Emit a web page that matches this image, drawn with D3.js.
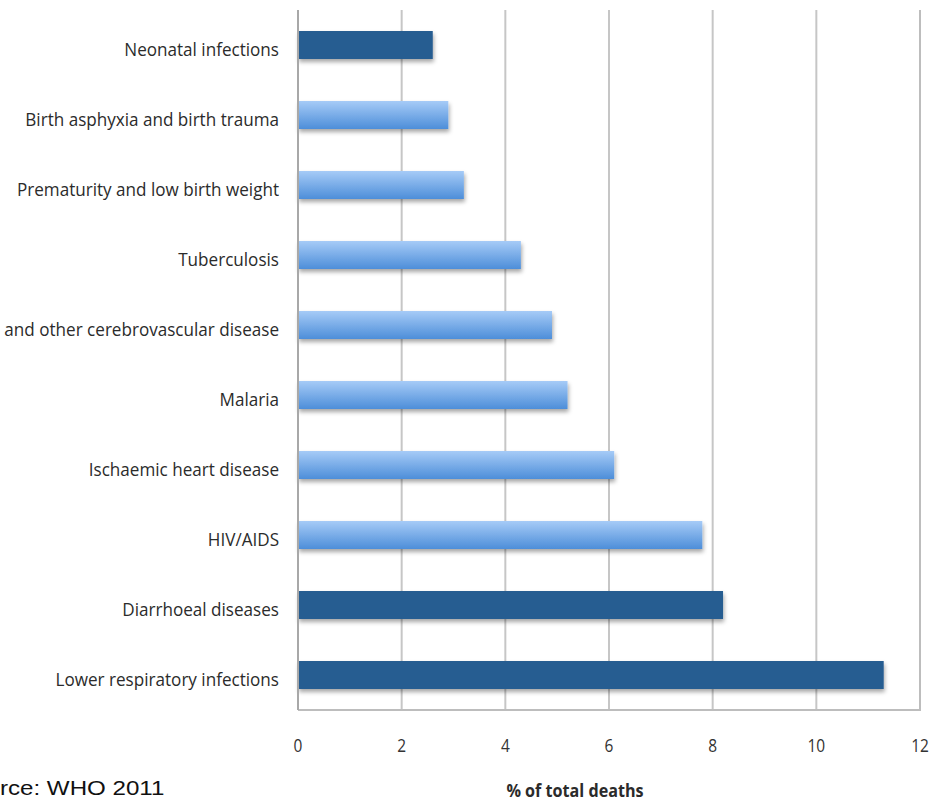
<!DOCTYPE html>
<html>
<head>
<meta charset="utf-8">
<script src="https://cdn.jsdelivr.net/npm/d3@7/dist/d3.min.js"></script>
<style>
  html, body { margin: 0; padding: 0; background: #ffffff; }
  svg { display: block; }
</style>
</head>
<body>
<svg id="chart" width="930" height="802"></svg>
<script>
// Leading causes of death, % of total deaths
const categories = [
  "Neonatal infections",
  "Birth asphyxia and birth trauma",
  "Prematurity and low birth weight",
  "Tuberculosis",
  "Stroke and other cerebrovascular disease",
  "Malaria",
  "Ischaemic heart disease",
  "HIV/AIDS",
  "Diarrhoeal diseases",
  "Lower respiratory infections"
];
const values = [2.6, 2.9, 3.2, 4.3, 4.9, 5.2, 6.1, 7.8, 8.2, 11.3];
// Causes drawn in the darker colour
const highlighted = ["Neonatal infections", "Diarrhoeal diseases", "Lower respiratory infections"];
const tickValues = [0, 2, 4, 6, 8, 10, 12];
const axisTitle = "% of total deaths";
const sourceNote = "Source: WHO 2011";

const svg = d3.select("#chart");
const plot = { left: 298, right: 920, top: 10, bottom: 710 };
const labelFont = "'Open Sans', 'Noto Sans', sans-serif";
const squeeze = 0.9;

const x = d3.scaleLinear().domain([0, 12]).range([plot.left, plot.right]);
const y = d3.scaleBand().domain(categories).range([plot.top, plot.bottom])
  .paddingInner(0.6).paddingOuter(0.3);

const defs = svg.append("defs");
const grad = defs.append("linearGradient").attr("id", "lightBar")
  .attr("x1", 0).attr("y1", 0).attr("x2", 0).attr("y2", 1);
grad.append("stop").attr("offset", "0%").attr("stop-color", "#a6cbf7");
grad.append("stop").attr("offset", "100%").attr("stop-color", "#4d8ed9");

const shadow = defs.append("filter").attr("id", "barShadow")
  .attr("x", "-5%").attr("y", "-30%").attr("width", "115%").attr("height", "190%");
shadow.append("feDropShadow").attr("dx", 1).attr("dy", 3)
  .attr("stdDeviation", 2).attr("flood-color", "#000").attr("flood-opacity", 0.35);

// Vertical gridlines
svg.append("g")
  .selectAll("line")
  .data(tickValues.filter(t => t > 0 && t < 12))
  .join("line")
  .attr("x1", d => x(d)).attr("x2", d => x(d))
  .attr("y1", plot.top).attr("y2", plot.bottom)
  .attr("stroke", "#c6c6c6").attr("stroke-width", 2);

// Plot frame: right and bottom edges
svg.append("path")
  .attr("d", `M${x(12)},${plot.top}V${plot.bottom}H${plot.left}`)
  .attr("fill", "none").attr("stroke", "#bdbdbd").attr("stroke-width", 2);

// Bars
svg.append("g")
  .selectAll("rect")
  .data(categories.map((c, i) => ({ cause: c, value: values[i] })))
  .join("rect")
  .attr("x", x(0))
  .attr("y", d => y(d.cause))
  .attr("width", d => x(d.value) - x(0))
  .attr("height", y.bandwidth())
  .attr("fill", d => highlighted.includes(d.cause) ? "#285d91" : "url(#lightBar)")
  .attr("filter", "url(#barShadow)");

// Category axis line
svg.append("line")
  .attr("x1", x(0)).attr("x2", x(0))
  .attr("y1", plot.top).attr("y2", plot.bottom)
  .attr("stroke", "#a8a8a8").attr("stroke-width", 2);

// Category labels
svg.append("g")
  .selectAll("text")
  .data(categories)
  .join("text")
  .attr("transform", d => `translate(${plot.left - 19},${y(d) + y.bandwidth() / 2 + 11}) scale(${squeeze},1)`)
  .attr("text-anchor", "end")
  .attr("font-family", labelFont)
  .attr("font-size", 19)
  .attr("fill", "#2b2b2b")
  .text(d => d);

// Value axis tick labels
svg.append("g")
  .selectAll("text")
  .data(tickValues)
  .join("text")
  .attr("transform", d => `translate(${x(d)},${752}) scale(0.86,1)`)
  .attr("text-anchor", "middle")
  .attr("font-family", labelFont)
  .attr("font-size", 18)
  .attr("fill", "#333")
  .text(d => d);

// Value axis title
svg.append("text")
  .attr("transform", `translate(575,797) scale(0.95,1)`)
  .attr("text-anchor", "middle")
  .attr("font-family", labelFont)
  .attr("font-size", 17)
  .attr("font-weight", "bold")
  .attr("fill", "#2b2b2b")
  .text(axisTitle);

// Source note
svg.append("text")
  .attr("transform", "translate(-43,795) scale(1.15,1)")
  .attr("font-family", "'Liberation Sans', Arial, sans-serif")
  .attr("font-size", 21)
  .attr("fill", "#111")
  .text(sourceNote);
</script>
</body>
</html>
